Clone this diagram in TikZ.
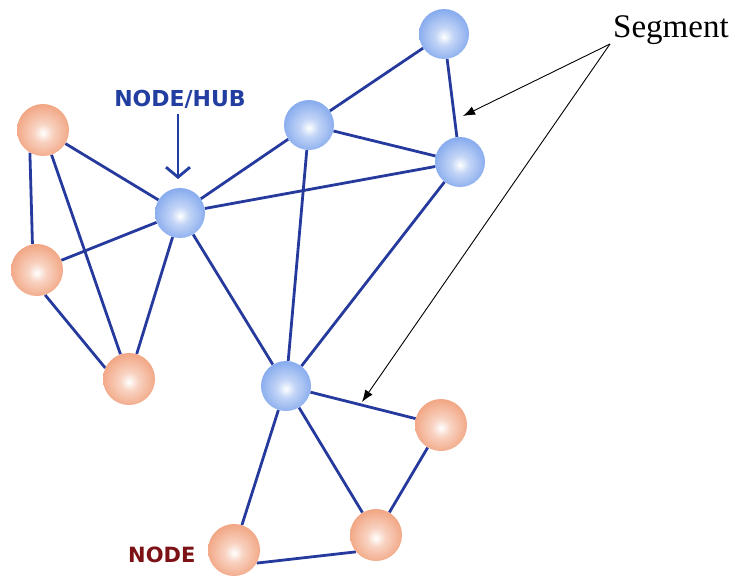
\documentclass[tikz,border=0pt]{standalone}
\usepackage{fontspec}
\setmainfont{Liberation Serif}
\newfontfamily\labelfont{DejaVu Sans}
\usetikzlibrary{arrows.meta,backgrounds}

\definecolor{hubblue}{RGB}{122,162,236}
\definecolor{nodeorange}{RGB}{240,156,118}
\definecolor{segblue}{RGB}{38,58,158}
\definecolor{hubtext}{RGB}{34,62,160}
\definecolor{nodered}{RGB}{125,18,22}

\pgfdeclareradialshading{hubball}{\pgfpoint{0bp}{-3bp}}{color(0bp)=(white); color(9bp)=(white!55!hubblue); color(30bp)=(hubblue); color(44bp)=(hubblue); color(50bp)=(hubblue!85!black)}
\pgfdeclareradialshading{leafball}{\pgfpoint{0bp}{-3bp}}{color(0bp)=(white); color(9bp)=(white!55!nodeorange); color(30bp)=(nodeorange); color(44bp)=(nodeorange); color(50bp)=(nodeorange!88!black)}

\tikzset{
  hub/.style={circle,minimum size=50pt,inner sep=0pt,shading=hubball},
  leaf/.style={circle,minimum size=52pt,inner sep=0pt,shading=leafball},
  link/.style={segblue,line width=2.8pt},
  pointer/.style={black,line width=0.9pt,-{Latex[length=12pt,width=9pt]}},
  hubarrow/.style={hubtext,line width=2.8pt,-{Straight Barb[length=10pt,width=24pt]}}
}

\begin{document}
\begin{tikzpicture}[x=1pt,y=1pt,yscale=-1]
\useasboundingbox (0,0) rectangle (744,576);
\node [hub] (b1) at (444,34) {};
\node [hub] (b2) at (309,125) {};
\node [hub] (b3) at (460,162) {};
\node [hub] (b4) at (180,213) {};
\node [hub] (b5) at (286,386) {};
\node [leaf] (o1) at (43,130) {};
\node [leaf] (o2) at (37,270) {};
\node [leaf] (o3) at (129,379) {};
\node [leaf] (o4) at (441,425) {};
\node [leaf] (o5) at (376,535) {};
\node [leaf] (o6) at (234,550) {};
\begin{scope}[on background layer]
\draw [link] (b1) -- (b2);
\draw [link] (b1) -- (b3);
\draw [link] (b2) -- (b3);
\draw [link] (b2) -- (b4);
\draw [link] (b2) -- (b5);
\draw [link] (b4) -- (b3);
\draw [link] (b3) -- (b5);
\draw [link] (o1) -- (b4);
\draw [link] (o1.240) -- (o2.100);
\draw [link] (o1) -- (o3);
\draw [link] (o2) -- (b4);
\draw [link] (o2.-72) -- (o3.155);
\draw [link] (b4) -- (o3);
\draw [link] (b4) -- (b5);
\draw [link] (b5) -- (o4);
\draw [link] (b5) -- (o5);
\draw [link] (b5) -- (o6);
\draw [link] (o4) -- (o5);
\draw [link] (o6.-30) -- (o5.-140);
\end{scope}
\node [anchor=base,inner sep=0pt,text=hubtext,font=\labelfont\bfseries\fontsize{22}{22}\selectfont] (hublabel) at (180,106) {NODE/HUB};
\coordinate (hubtail) at (178,114);
\coordinate (hubtip) at (178,179);
\draw [hubarrow] (hubtail) -- (hubtip);
\node [anchor=base west,inner sep=0pt,font=\fontsize{33}{33}\selectfont] (seglabel) at (613,37) {Segment};
\coordinate (segtail) at (610,44);
\coordinate (segtipA) at (463,116);
\coordinate (segtipB) at (362,402);
\draw [pointer] (segtail) -- (segtipA);
\draw [pointer] (segtail) -- (segtipB);
\node [anchor=base west,inner sep=0pt,text=nodered,font=\labelfont\bfseries\fontsize{21}{21}\selectfont] (nodelabel) at (128,562) {NODE};
\end{tikzpicture}
\end{document}
